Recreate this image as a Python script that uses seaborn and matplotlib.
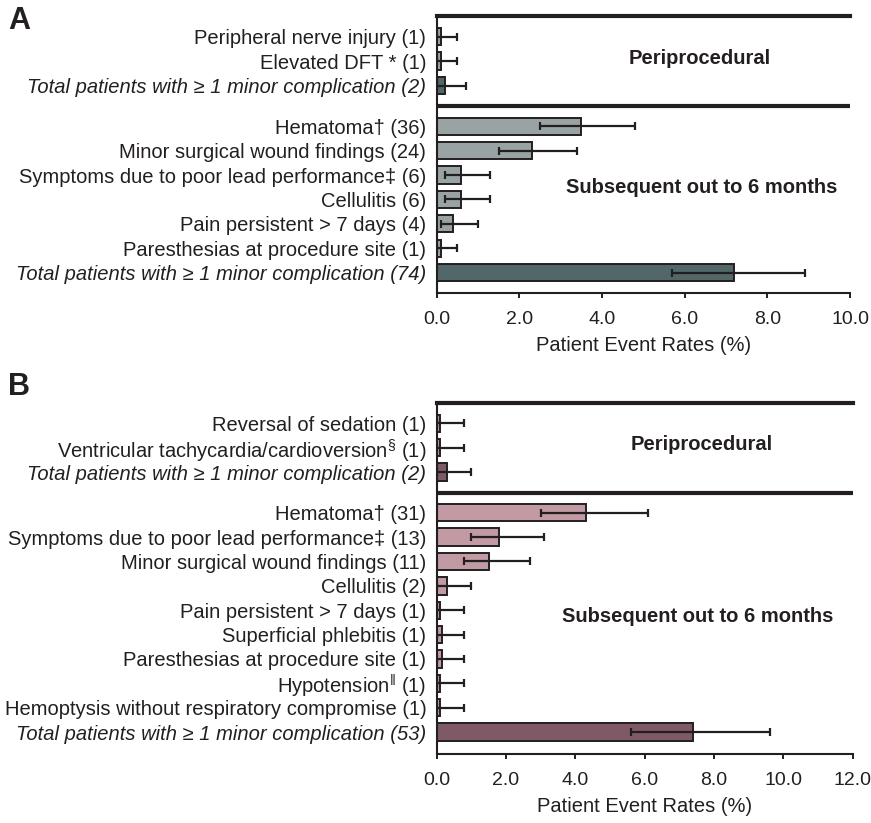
import numpy as np
import pandas as pd
import matplotlib
matplotlib.use("Agg")
import matplotlib.pyplot as plt
import matplotlib.transforms as mtransforms
import seaborn as sns

# ---- Panel A: event rates (%) with 95% CI bounds ----
a_peri_labels = [
    "Peripheral nerve injury (1)",
    "Elevated DFT * (1)",
    "Total patients with \u2265 1 minor complication (2)",
]
a_peri_rate = [0.1, 0.1, 0.2]
a_peri_lo = [0.0, 0.0, 0.0]
a_peri_hi = [0.5, 0.5, 0.7]

a_sub_labels = [
    "Hematoma\u2020 (36)",
    "Minor surgical wound findings (24)",
    "Symptoms due to poor lead performance\u2021 (6)",
    "Cellulitis (6)",
    "Pain persistent > 7 days (4)",
    "Paresthesias at procedure site (1)",
    "Total patients with \u2265 1 minor complication (74)",
]
a_sub_rate = [3.5, 2.3, 0.6, 0.6, 0.4, 0.1, 7.2]
a_sub_lo = [2.5, 1.5, 0.2, 0.2, 0.1, 0.0, 5.7]
a_sub_hi = [4.8, 3.4, 1.3, 1.3, 1.0, 0.5, 8.9]

# ---- Panel B ----
b_peri_labels = [
    "Reversal of sedation (1)",
    r"Ventricular tachycardia/cardioversion$^{\S}$ (1)",
    "Total patients with \u2265 1 minor complication (2)",
]
b_peri_rate = [0.1, 0.1, 0.3]
b_peri_lo = [0.0, 0.0, 0.0]
b_peri_hi = [0.8, 0.8, 1.0]

b_sub_labels = [
    "Hematoma\u2020 (31)",
    "Symptoms due to poor lead performance\u2021 (13)",
    "Minor surgical wound findings (11)",
    "Cellulitis (2)",
    "Pain persistent > 7 days (1)",
    "Superficial phlebitis (1)",
    "Paresthesias at procedure site (1)",
    "Hypotension$^{\u2016}$ (1)",
    "Hemoptysis without respiratory compromise (1)",
    "Total patients with \u2265 1 minor complication (53)",
]
b_sub_rate = [4.3, 1.8, 1.5, 0.3, 0.1, 0.15, 0.15, 0.1, 0.1, 7.4]
b_sub_lo = [3.0, 1.0, 0.8, 0.0, 0.0, 0.0, 0.0, 0.0, 0.0, 5.6]
b_sub_hi = [6.1, 3.1, 2.7, 1.0, 0.8, 0.8, 0.8, 0.8, 0.8, 9.6]

INK = "#231f20"
LABEL_SIZE = 14.5
TICK_SIZE = 14

sns.set_style("white")
plt.rcParams["font.family"] = ["Liberation Sans", "DejaVu Sans"]
plt.rcParams["mathtext.fontset"] = "custom"
plt.rcParams["mathtext.rm"] = "Liberation Sans"
plt.rcParams["mathtext.it"] = "Liberation Sans:italic"
plt.rcParams["mathtext.bf"] = "Liberation Sans:bold"
plt.rcParams["text.color"] = INK
plt.rcParams["axes.labelcolor"] = INK
plt.rcParams["xtick.color"] = INK
plt.rcParams["ytick.color"] = INK

SUB_START = 3.67   # first row of the "subsequent" block
SEP = 2.85         # divider between the two blocks


def build_frame(peri_labels, peri_rate, peri_lo, peri_hi,
                sub_labels, sub_rate, sub_lo, sub_hi):
    labels = list(peri_labels) + list(sub_labels)
    pos = list(np.arange(len(peri_labels), dtype=float)) + \
        list(SUB_START + np.arange(len(sub_labels), dtype=float))
    df = pd.DataFrame({
        "label": labels,
        "rate": list(peri_rate) + list(sub_rate),
        "lo": list(peri_lo) + list(sub_lo),
        "hi": list(peri_hi) + list(sub_hi),
        "pos": pos,
    })
    df["kind"] = np.where(df["label"].str.startswith("Total"), "total", "item")
    return df


def draw_panel(ax, df, light, dark, xmax, ybottom, ytop, peri_y, sub_xy):
    sns.barplot(data=df, x="rate", y="pos", hue="kind",
                palette={"item": light, "total": dark},
                orient="y", native_scale=True, width=0.71, dodge=False,
                errorbar=None, edgecolor=INK, linewidth=1.4,
                legend=False, ax=ax)
    ax.errorbar(df["rate"], df["pos"],
                xerr=[df["rate"] - df["lo"], df["hi"] - df["rate"]],
                fmt="none", ecolor=INK, elinewidth=1.6,
                capsize=2.6, capthick=1.6, zorder=4)

    ax.set_ylim(ybottom, ytop)
    ax.set_xlim(0, xmax)
    ax.set_yticks(df["pos"], labels=df["label"])
    for lab, kind in zip(ax.get_yticklabels(), df["kind"]):
        if kind == "total":
            lab.set_fontstyle("italic")
    ax.tick_params(axis="y", length=0, pad=7.5, labelsize=LABEL_SIZE)
    ticks = np.arange(0, xmax + 0.01, 2.0)
    ax.set_xticks(ticks)
    ax.set_xticklabels([f"{v:.1f}" for v in ticks])
    ax.tick_params(axis="x", direction="out", length=3.8, width=1.4,
                   pad=9, labelsize=TICK_SIZE, bottom=True)
    ax.set_xlabel("Patient Event Rates (%)", fontsize=LABEL_SIZE, labelpad=6)
    ax.set_ylabel("")

    for side in ("left", "bottom"):
        ax.spines[side].set_visible(True)
        ax.spines[side].set_linewidth(1.5)
        ax.spines[side].set_color(INK)
    ax.spines["top"].set_visible(True)
    ax.spines["top"].set_linewidth(3)
    ax.spines["top"].set_color(INK)
    ax.spines["right"].set_visible(False)
    ax.axhline(SEP, color=INK, linewidth=3, zorder=5)

    trans = mtransforms.blended_transform_factory(ax.transAxes, ax.transData)
    ax.text(0.637, peri_y, "Periprocedural", transform=trans,
            ha="center", va="center", fontsize=LABEL_SIZE, fontweight="bold")
    ax.text(sub_xy[0], sub_xy[1], "Subsequent out to 6 months",
            transform=trans, ha="center", va="center",
            fontsize=LABEL_SIZE, fontweight="bold")


fig = plt.figure(figsize=(8.71, 8.23), dpi=100)
W, H = 871, 823

ax_a = fig.add_axes([436.7 / W, 1 - 293.3 / H, (850 - 436.7) / W, (293.3 - 16) / H])
ax_b = fig.add_axes([436.7 / W, 1 - 754.3 / H, (852.7 - 436.7) / W, (754.3 - 403.3) / H])

df_a = build_frame(a_peri_labels, a_peri_rate, a_peri_lo, a_peri_hi,
                   a_sub_labels, a_sub_rate, a_sub_lo, a_sub_hi)
df_b = build_frame(b_peri_labels, b_peri_rate, b_peri_lo, b_peri_hi,
                   b_sub_labels, b_sub_rate, b_sub_lo, b_sub_hi)

draw_panel(ax_a, df_a, "#97a4a5", "#4e6a6c", 10.0, 10.52, -0.85,
           0.88, (0.641, 6.19))
draw_panel(ax_b, df_b, "#c793a0", "#845465", 12.0, 13.58, -0.82,
           0.86, (0.627, 7.93))

fig.text(8 / W, 1 - 6 / H, "A", ha="left", va="top",
         fontsize=22, fontweight="bold")
fig.text(8 / W, 1 - 372 / H, "B", ha="left", va="top",
         fontsize=22, fontweight="bold")

fig.savefig("out.png", dpi=100)
